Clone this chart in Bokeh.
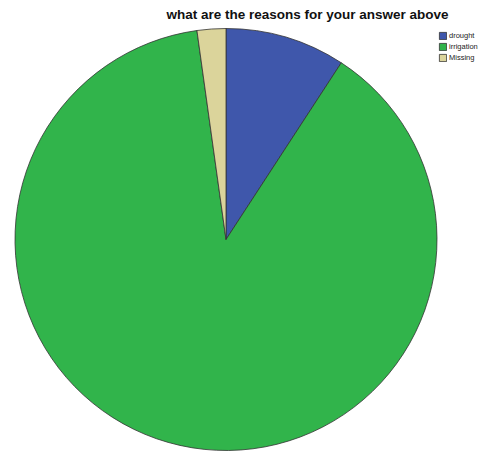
from math import pi
from bokeh.plotting import figure
from bokeh.models import ColumnDataSource, Legend, LegendItem, Range1d
from bokeh.core.properties import value
from bokeh.embed import file_html
from bokeh.resources import INLINE

categories = ["drought", "irrigation", "Missing"]
percents = [9.2, 88.6, 2.2]
colors = ["#3f57ab", "#31b44b", "#dbd49b"]
title_text = "what are the reasons for your answer above"

W, H = 487, 452
cx, cy, r = 225.5, H - 239, 211

total = sum(percents)
starts, ends = [], []
a = pi / 2
for v in percents:
    starts.append(a)
    a = a - v / total * 2 * pi
    ends.append(a)

src = ColumnDataSource(dict(cat=categories, start=starts, end=ends, color=colors))

p = figure(width=W, height=H, output_backend="svg", toolbar_location=None,
           x_range=Range1d(0, W), y_range=Range1d(0, H), min_border=0)
p.axis.visible = False
p.grid.visible = False
p.outline_line_color = None
p.background_fill_color = "white"

r_w = p.wedge(x=cx, y=cy, radius=r, start_angle="start", end_angle="end",
              direction="clock", fill_color="color", line_color="#333333",
              line_width=0.8, source=src)

p.text(x=[307], y=[H - 14], text=[title_text], text_align="center",
       text_baseline="middle", text_font=value("Liberation Sans"),
       text_font_style="bold", text_font_size="13.5px", text_color="#111111")

items = [LegendItem(label=c, renderers=[r_w], index=i) for i, c in enumerate(categories)]
legend = Legend(items=items, location=(438, H - 62), orientation="vertical",
                glyph_width=9, glyph_height=9, label_text_font_size="7.5px",
                label_text_font="Liberation Sans", label_text_color="#222222",
                label_standoff=2, spacing=2,
                padding=0, margin=0, border_line_color=None,
                background_fill_alpha=0, label_height=9)
p.add_layout(legend, "center")

open("out.html", "w").write(file_html(p, INLINE))
